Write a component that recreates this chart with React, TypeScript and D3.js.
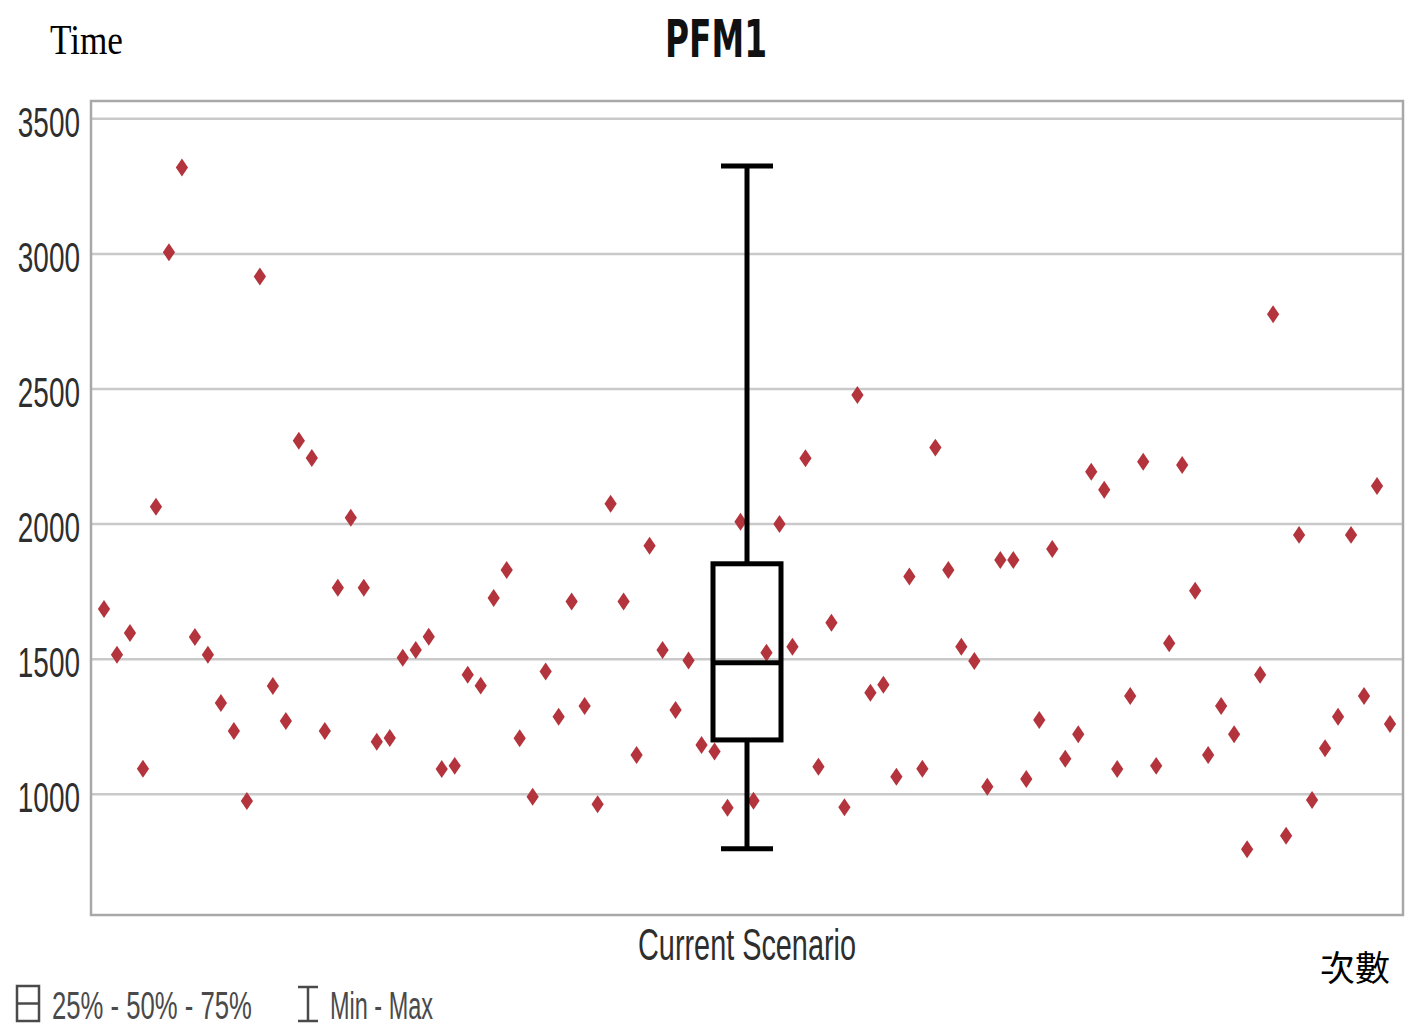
import React, { useEffect, useRef } from "react";
import * as d3 from "d3";

const runs: number[] = d3.range(1, 101);
const values: number[] = [
  1686, 1516, 1597, 1094, 2064, 3006, 3320, 1582, 1516, 1338,
  1234, 975, 2916, 1401, 1271, 2308, 2245, 1234, 1764, 2023,
  1764, 1194, 1208, 1505, 1534, 1583, 1093, 1105, 1442, 1402,
  1726, 1830, 1207, 991, 1454, 1287, 1713, 1327, 963, 2075,
  1713, 1145, 1920, 1534, 1312, 1495, 1182, 1158, 950, 2009,
  976, 1524, 2000, 1546, 2244, 1102, 1635, 952, 2478, 1376,
  1405, 1065, 1806, 1094, 2283, 1830, 1546, 1493, 1028, 1867,
  1867, 1056, 1275, 1908, 1131, 1222, 2194, 2127, 1093, 1364,
  2231, 1105, 1559, 2219, 1753, 1145, 1327, 1222, 796, 1442,
  2777, 846, 1960, 979, 1170, 1287, 1960, 1364, 2141, 1260,
];
// [min, q1, median, q3, max]
const boxStats: number[] = [798, 1201, 1487, 1853, 3325];
const yTicks: number[] = [1000, 1500, 2000, 2500, 3000, 3500];
const yDomain: number[] = [553, 3566];
const categories: string[] = ["Current Scenario"];
const legendLabels: string[] = ["25% - 50% - 75%", "Min - Max"];
const titleText = "PFM1";
const yAxisTitle = "Time";
const xAxisTitle = "次數";

const W = 1409;
const H = 1027;
const plot = { left: 91, right: 1403, top: 101, bottom: 915 };
const SANS = "'Liberation Sans', Arial, sans-serif";

// tall diamond symbol
const tallDiamond = {
  draw(context: any, size: number) {
    const h = Math.sqrt(size / 1.36);
    const w = h * 0.68;
    context.moveTo(0, -h);
    context.lineTo(w, 0);
    context.lineTo(0, h);
    context.lineTo(-w, 0);
    context.closePath();
  },
};

function fitText(
  parent: any,
  text: string,
  x: number,
  y: number,
  width: number,
  anchor: string,
  attrs: Record<string, any>
) {
  const g = parent.append("g");
  const t = g.append("text").attr("x", 0).attr("y", 0).attr("text-anchor", anchor).text(text);
  Object.entries(attrs).forEach(([k, v]) => t.attr(k, v));
  const len = (t.node() as SVGTextElement).getComputedTextLength() || width;
  const s = width / len;
  g.attr("transform", `translate(${x},${y}) scale(${s},1)`);
  return g;
}

export default function App() {
  const ref = useRef<SVGSVGElement | null>(null);

  useEffect(() => {
    const svg = d3.select(ref.current);
    svg.selectAll("*").remove();

    const y = d3.scaleLinear().domain(yDomain).range([plot.bottom, plot.top]);
    const xRun = d3
      .scalePoint<number>()
      .domain(runs)
      .range([plot.left, plot.right])
      .padding(1);
    const xCat = d3
      .scaleBand<string>()
      .domain(categories)
      .range([plot.left, plot.right]);

    svg.append("rect").attr("width", W).attr("height", H).attr("fill", "#fff");

    // gridlines
    svg
      .append("g")
      .selectAll("line")
      .data(yTicks)
      .join("line")
      .attr("x1", plot.left)
      .attr("x2", plot.right)
      .attr("y1", (d) => y(d))
      .attr("y2", (d) => y(d))
      .attr("stroke", "#c9c9c9")
      .attr("stroke-width", 2.5);

    // plot border
    svg
      .append("rect")
      .attr("x", plot.left)
      .attr("y", plot.top)
      .attr("width", plot.right - plot.left)
      .attr("height", plot.bottom - plot.top)
      .attr("fill", "none")
      .attr("stroke", "#a8a8a8")
      .attr("stroke-width", 2.5);

    // y axis labels
    const yAxis = d3
      .axisLeft(y)
      .tickValues(yTicks)
      .tickSize(0)
      .tickPadding(0)
      .tickFormat(d3.format("d"));
    const gy = svg
      .append("g")
      .attr("transform", `translate(${plot.left - 11},0)`)
      .call(yAxis);
    gy.select(".domain").remove();
    gy.selectAll("text")
      .attr("font-family", SANS)
      .attr("font-size", 43)
      .attr("fill", "#2e2e2e")
      .attr("dy", "0.40em")
      .attr("transform", "scale(0.65,1)");

    // points
    const sym = d3.symbol(tallDiamond as any, 110);
    svg
      .append("g")
      .selectAll("path")
      .data(values)
      .join("path")
      .attr("d", sym)
      .attr("transform", (d, i) => `translate(${xRun(runs[i])},${y(d)})`)
      .attr("fill", "#b3343c");

    // box plot
    const cx = (xCat(categories[0]) as number) + xCat.bandwidth() / 2;
    const boxW = 68;
    const capW = 52;
    const [mn, q1, med, q3, mx] = boxStats;
    const bp = svg
      .append("g")
      .attr("stroke", "#000")
      .attr("stroke-width", 5)
      .attr("fill", "none");
    bp.append("line").attr("x1", cx).attr("x2", cx).attr("y1", y(mx)).attr("y2", y(q3));
    bp.append("line").attr("x1", cx).attr("x2", cx).attr("y1", y(q1)).attr("y2", y(mn));
    bp.append("line").attr("x1", cx - capW / 2).attr("x2", cx + capW / 2).attr("y1", y(mx)).attr("y2", y(mx));
    bp.append("line").attr("x1", cx - capW / 2).attr("x2", cx + capW / 2).attr("y1", y(mn)).attr("y2", y(mn));
    bp.append("rect")
      .attr("x", cx - boxW / 2)
      .attr("y", y(q3))
      .attr("width", boxW)
      .attr("height", y(q1) - y(q3));
    bp.append("line").attr("x1", cx - boxW / 2).attr("x2", cx + boxW / 2).attr("y1", y(med)).attr("y2", y(med));

    // category label
    fitText(svg, categories[0], cx, 960, 218, "middle", {
      "font-family": SANS,
      "font-size": 44,
      fill: "#2e2e2e",
    });

    // title
    fitText(svg, titleText, 716, 57, 102, "middle", {
      "font-family": "'DejaVu Sans', sans-serif",
      "font-weight": "bold",
      "font-size": 51,
      fill: "#111",
    });

    // axis titles
    fitText(svg, yAxisTitle, 50, 54, 73, "start", {
      "font-family": "'Liberation Serif', serif",
      "font-size": 43,
      fill: "#000",
    });
    fitText(svg, xAxisTitle, 1320, 981, 70, "start", {
      "font-family": "'Noto Sans CJK TC', sans-serif",
      "font-size": 35,
      fill: "#000",
    });

    // legend
    const lg = svg.append("g");
    lg.append("rect")
      .attr("x", 17).attr("y", 986).attr("width", 22).attr("height", 35)
      .attr("fill", "none").attr("stroke", "#4a4a4a").attr("stroke-width", 2.5);
    lg.append("line")
      .attr("x1", 17).attr("x2", 39).attr("y1", 1003.5).attr("y2", 1003.5)
      .attr("stroke", "#4a4a4a").attr("stroke-width", 2.5);
    const iG = lg.append("g").attr("stroke", "#4a4a4a").attr("stroke-width", 2.5);
    iG.append("line").attr("x1", 308).attr("x2", 308).attr("y1", 987).attr("y2", 1021);
    iG.append("line").attr("x1", 298).attr("x2", 318).attr("y1", 987).attr("y2", 987);
    iG.append("line").attr("x1", 298).attr("x2", 318).attr("y1", 1021).attr("y2", 1021);
    const legX = [52, 330];
    const legLen = [200, 103];
    legendLabels.forEach((lbl, i) => {
      fitText(lg, lbl, legX[i], 1019, legLen[i], "start", {
        "font-family": SANS,
        "font-size": 39,
        fill: "#4a4a4a",
      });
    });
  }, []);

  return (
    <svg
      ref={ref}
      width={W}
      height={H}
      style={{ position: "absolute", left: 0, top: 0, display: "block" }}
    />
  );
}
